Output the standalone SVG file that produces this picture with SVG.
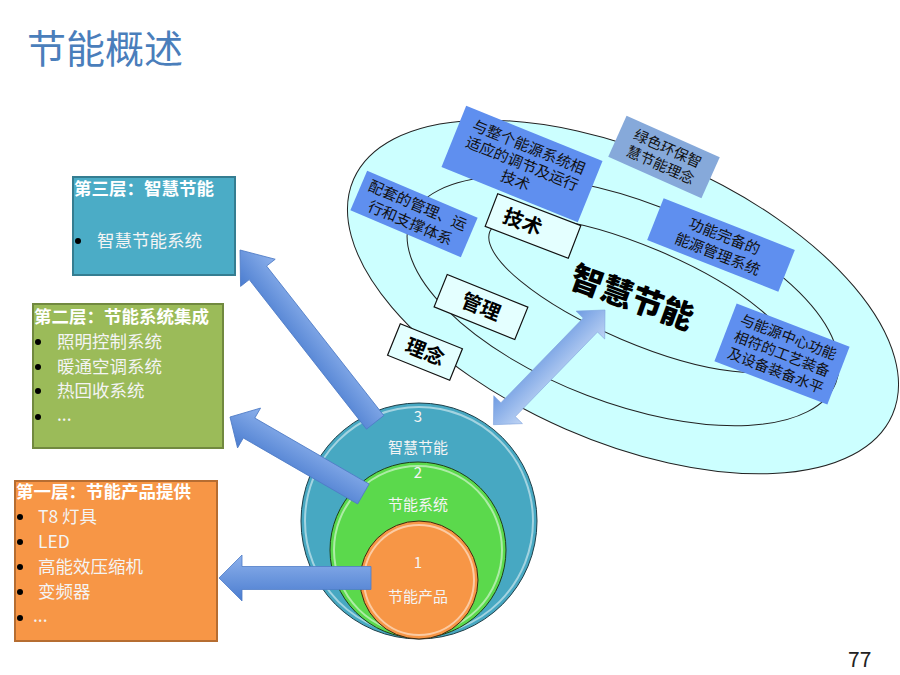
<svg xmlns="http://www.w3.org/2000/svg" width="900" height="675" viewBox="0 0 900 675">
<defs>
<style>
.cjk{font-family:"Noto Sans CJK SC","Noto Sans",sans-serif}
.ell{fill:#CCFFFF;stroke:#222;stroke-width:1}
.bb{fill:#5F8FEF}
.bt{font-family:"Noto Sans CJK SC",sans-serif;font-size:15px;fill:#111;text-anchor:middle}
.wb{fill:#E4FFFF;stroke:#111;stroke-width:1.2}
.wt{font-family:"Noto Sans CJK SC",sans-serif;font-size:20px;font-weight:bold;fill:#000;text-anchor:middle}
.lt{font-family:"Noto Sans CJK SC",sans-serif;font-size:17.5px;font-weight:bold;fill:#fff}
.li{font-family:"Noto Sans CJK SC",sans-serif;font-size:17.5px;fill:#F4F4F4}
.ct{font-family:"Noto Sans CJK SC",sans-serif;font-size:15px;fill:#F4F4F4;text-anchor:middle}
.arr{fill:url(#ag);stroke:#4F7CC6;stroke-width:0.8}
.gl{fill:none;stroke:#fff;stroke-opacity:0.5;stroke-width:2}
</style>
<linearGradient id="ag" x1="0" y1="0" x2="0" y2="1">
<stop offset="0" stop-color="#8DB1EC"/>
<stop offset="1" stop-color="#4A7CCF"/>
</linearGradient>
<linearGradient id="dg" x1="0" y1="0" x2="0" y2="1">
<stop offset="0" stop-color="#BFD4F4"/>
<stop offset="1" stop-color="#6E9BE2"/>
</linearGradient>
</defs>
<rect width="900" height="675" fill="#fff"/>
<text x="27" y="63" class="cjk" font-size="39" fill="#4A7EBB">节能概述</text>

<g id="ellipses">
<ellipse class="ell" cx="623" cy="297" rx="294" ry="144" transform="rotate(23.6 623 297)"/>
<ellipse class="ell" cx="623" cy="301" rx="228" ry="101" transform="rotate(21 623 301)"/>
<ellipse class="ell" cx="640" cy="295" rx="163" ry="48" transform="rotate(23 640 295)"/>
<text class="wt" transform="translate(632,298) rotate(20)" y="11" style="font-size:32px;font-weight:900">智慧节能</text>
</g>

<g id="box-tech-adjust" transform="translate(522,164) rotate(22)">
<rect class="bb" x="-73.5" y="-33" width="147" height="66"/>
<text class="bt" y="-13">与整个能源系统相</text>
<text class="bt" y="5">适应的调节及运行</text>
<text class="bt" y="23">技术</text>
</g>
<g id="box-green" transform="translate(664,157) rotate(24)">
<rect x="-51" y="-22.5" width="102" height="45" fill="#86A9DA"/>
<text class="bt" y="-4" style="font-size:14.5px">绿色环保智</text>
<text class="bt" y="14" style="font-size:14.5px">慧节能理念</text>
</g>
<g id="box-support" transform="translate(414,214) rotate(23)">
<rect class="bb" x="-60" y="-21.5" width="120" height="43"/>
<text class="bt" y="-4">配套的管理、运</text>
<text class="bt" y="15">行和支撑体系</text>
</g>
<g id="box-ems" transform="translate(721,245) rotate(21.5)">
<rect class="bb" x="-70.5" y="-22.5" width="141" height="45"/>
<text class="bt" y="-4">功能完备的</text>
<text class="bt" y="15">能源管理系统</text>
</g>
<g id="box-equip" transform="translate(782,354) rotate(21)">
<rect class="bb" x="-60.5" y="-31" width="121" height="62"/>
<text class="bt" y="-13" style="font-size:14.5px">与能源中心功能</text>
<text class="bt" y="5" style="font-size:14.5px">相符的工艺装备</text>
<text class="bt" y="23" style="font-size:14.5px">及设备装备水平</text>
</g>
<g id="box-jishu" transform="translate(533,226) rotate(21)">
<rect class="wb" x="-44.5" y="-17.5" width="89" height="35"/>
<text class="wt" x="-11" y="7">技术</text>
</g>
<g id="box-guanli" transform="translate(481,307) rotate(22)">
<rect class="wb" x="-43.5" y="-17.5" width="87" height="35"/>
<text class="wt" y="7">管理</text>
</g>
<g id="box-linian" transform="translate(425,352) rotate(22)">
<rect class="wb" x="-33.5" y="-17" width="67" height="34"/>
<text class="wt" y="7">理念</text>
</g>

<g id="layer3">
<rect x="73" y="177" width="162" height="98" fill="#4BACC6" stroke="#357D91" stroke-width="2"/>
<text class="lt" x="74" y="195">第三层：智慧节能</text>
<circle cx="78" cy="241" r="3" fill="#000"/>
<text class="li" x="97" y="247">智慧节能系统</text>
</g>
<g id="layer2">
<rect x="33" y="304" width="190" height="144" fill="#9BBB59" stroke="#71893F" stroke-width="2"/>
<text class="lt" x="34" y="323">第二层：节能系统集成</text>
<circle cx="38" cy="342" r="3" fill="#000"/>
<circle cx="38" cy="367" r="3" fill="#000"/>
<circle cx="38" cy="391" r="3" fill="#000"/>
<circle cx="38" cy="417" r="3" fill="#000"/>
<text class="li" x="57" y="348">照明控制系统</text>
<text class="li" x="57" y="373">暖通空调系统</text>
<text class="li" x="57" y="397">热回收系统</text>
<text class="li" x="57" y="421">...</text>
</g>
<g id="layer1">
<rect x="15" y="481" width="202" height="160" fill="#F79646" stroke="#B66D31" stroke-width="2"/>
<text class="lt" x="16" y="498">第一层：节能产品提供</text>
<circle cx="20" cy="517" r="3" fill="#000"/>
<circle cx="20" cy="542" r="3" fill="#000"/>
<circle cx="20" cy="567" r="3" fill="#000"/>
<circle cx="20" cy="592" r="3" fill="#000"/>
<circle cx="20" cy="618" r="3" fill="#000"/>
<text class="li" x="38" y="523">T8 灯具</text>
<text class="li" x="38" y="548">LED</text>
<text class="li" x="38" y="573">高能效压缩机</text>
<text class="li" x="38" y="598">变频器</text>
<text class="li" x="33" y="622">...</text>
</g>

<g id="circles">
<circle cx="419" cy="521" r="118" fill="#47A8C2" stroke="#1F3F48" stroke-width="1"/>
<circle class="gl" cx="419" cy="521" r="114"/>
<circle cx="418" cy="550" r="88" fill="#5BD94C" stroke="#1F3F18" stroke-width="1"/>
<circle class="gl" cx="418" cy="550" r="84"/>
<circle cx="419" cy="580" r="59" fill="#F79646" stroke="#3F2A10" stroke-width="1"/>
<circle class="gl" cx="419" cy="580" r="55"/>
<text class="ct" x="418" y="422">3</text>
<text class="ct" x="418" y="453">智慧节能</text>
<text class="ct" x="418" y="478">2</text>
<text class="ct" x="418" y="510">节能系统</text>
<text class="ct" x="418" y="568">1</text>
<text class="ct" x="418" y="602">节能产品</text>
</g>

<g id="connectors">
<path class="arr" transform="translate(240,250) rotate(51.9)" d="M0,0 L29,-22 L29,-11 L219,-11 L219,11 L29,11 L29,22 Z"/>
<path class="arr" transform="translate(230,417) rotate(30)" d="M0,0 L22,-23 L22,-11.5 L154,-11.5 L154,11.5 L22,11.5 L22,23 Z"/>
<path class="arr" transform="translate(219,578)" d="M0,0 L23,-23 L23,-11.5 L152,-11.5 L152,11.5 L23,11.5 L23,23 Z"/>
<path transform="translate(605,310) rotate(134.2)" fill="url(#dg)" stroke="#7FA3DE" stroke-width="0.6" d="M0,0 L21,-20 L21,-10 L139,-10 L139,-20 L160,0 L139,20 L139,10 L21,10 L21,20 Z"/>
</g>

<text x="848" y="667" class="cjk" font-size="21" fill="#222">77</text>
</svg>
